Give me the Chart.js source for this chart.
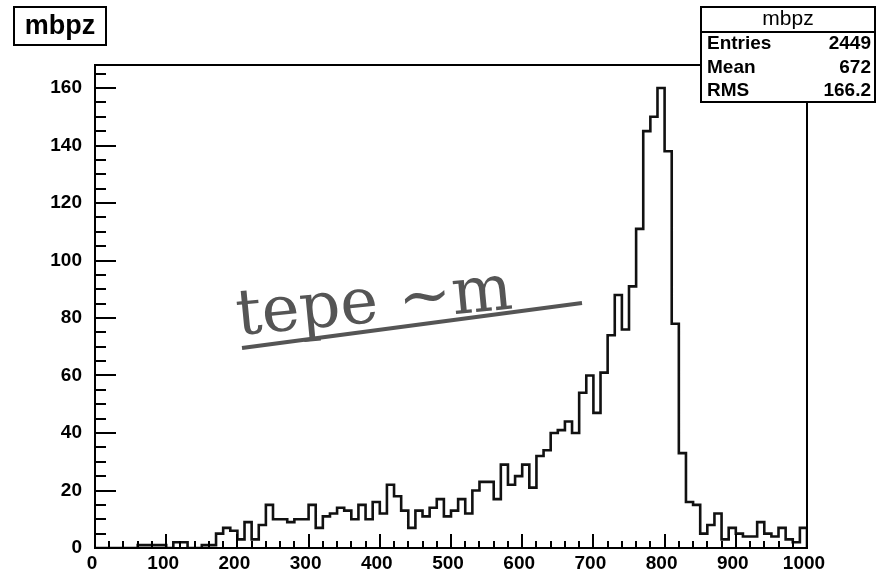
<!DOCTYPE html>
<html>
<head>
<meta charset="utf-8">
<script src="https://cdn.jsdelivr.net/npm/chart.js@4.4.1/dist/chart.umd.min.js"></script>
<style>
  html, body { margin: 0; padding: 0; background: #fff; }
  canvas { display: block; }
</style>
</head>
<body>
<canvas id="c" width="879" height="573"></canvas>
<script>
// Histogram "mbpz": 100 bins of width 10 on [0, 1000]
const histName = 'mbpz';
const xLow = 0;
const xHigh = 1000;
const binWidth = 10;
const counts = [
  0, 0, 0, 0, 0, 0, 1, 1, 1, 1,
  0, 2, 2, 0, 0, 1, 1, 5, 7, 6,
  3, 9, 3, 8, 15, 10, 10, 9, 10, 10,
  15, 7, 11, 12, 14, 13, 10, 15, 10, 16,
  12, 22, 18, 13, 7, 13, 11, 14, 17, 11,
  13, 17, 12, 20, 23, 23, 17, 29, 22, 25,
  29, 21, 32, 34, 40, 41, 44, 40, 54, 60,
  47, 61, 74, 88, 76, 91, 111, 145, 150, 160,
  138, 78, 33, 16, 15, 5, 8, 12, 3, 7,
  5, 4, 4, 9, 5, 4, 7, 3, 2, 7
];
const xTickValues = [0, 100, 200, 300, 400, 500, 600, 700, 800, 900, 1000];
const yTickValues = [0, 20, 40, 60, 80, 100, 120, 140, 160];
const yMax = 168;
const statLabels = ['Entries', 'Mean', 'RMS'];
const statValues = ['2449', '672', '166.2'];
const noteText = 'tepe ~m';

// outline points: start on the baseline, one point per bin low edge, close at the upper edge
const outline = [{ x: xLow, y: 0 }]
  .concat(counts.map((c, i) => ({ x: xLow + i * binWidth, y: c })))
  .concat([{ x: xHigh, y: 0 }]);

Chart.defaults.font.family = "'Liberation Sans', Arial, Helvetica, sans-serif";
Chart.defaults.color = '#000';

// frame, inward tick marks, title box, statistics box and the hand-written note
const decorations = {
  id: 'decorations',
  afterDraw(chart) {
    const ctx = chart.ctx;
    const a = chart.chartArea;
    const xs = chart.scales.x;
    const ys = chart.scales.y;
    ctx.save();
    ctx.strokeStyle = '#000';
    ctx.lineWidth = 2;
    ctx.lineCap = 'butt';

    // axis ticks
    ctx.beginPath();
    for (let v = xLow; v <= xHigh; v += 20) {
      const px = Math.round(xs.getPixelForValue(v));
      const len = v % 100 === 0 ? 14 : 7;
      ctx.moveTo(px, a.bottom);
      ctx.lineTo(px, a.bottom - len);
    }
    for (let v = 0; v <= yMax; v += 5) {
      const py = Math.round(ys.getPixelForValue(v));
      const len = v % 20 === 0 ? 21 : 11;
      ctx.moveTo(a.left, py);
      ctx.lineTo(a.left + len, py);
    }
    ctx.stroke();

    // frame
    ctx.strokeRect(a.left, a.top, a.right - a.left, a.bottom - a.top);

    // title box
    ctx.fillStyle = '#fff';
    ctx.fillRect(14, 7, 92, 38);
    ctx.strokeRect(14, 7, 92, 38);
    ctx.fillStyle = '#000';
    ctx.font = "bold 27px 'Liberation Sans', Arial, sans-serif";
    ctx.textAlign = 'center';
    ctx.textBaseline = 'middle';
    ctx.fillText(histName, 60, 27);

    // statistics box
    const bx = 701, by = 7, bw = 174, bh = 95;
    ctx.fillStyle = '#fff';
    ctx.fillRect(bx, by, bw, bh);
    ctx.strokeRect(bx, by, bw, bh);
    ctx.beginPath();
    ctx.moveTo(bx, 32);
    ctx.lineTo(bx + bw, 32);
    ctx.stroke();
    ctx.fillStyle = '#000';
    ctx.font = "21px 'Liberation Sans', Arial, sans-serif";
    ctx.textAlign = 'center';
    ctx.fillText(histName, bx + bw / 2, 19);
    ctx.font = "bold 19px 'Liberation Sans', Arial, sans-serif";
    const rowY = [44, 68, 91];
    statLabels.forEach((lab, i) => {
      ctx.textAlign = 'left';
      ctx.fillText(lab, bx + 6, rowY[i]);
      ctx.textAlign = 'right';
      ctx.fillText(statValues[i], bx + bw - 4, rowY[i]);
    });

    // note with underline
    ctx.strokeStyle = '#555';
    ctx.fillStyle = '#555';
    ctx.lineWidth = 4;
    ctx.beginPath();
    ctx.moveTo(242, 348);
    ctx.lineTo(582, 303);
    ctx.stroke();
    ctx.translate(238, 335);
    ctx.rotate(-5.5 * Math.PI / 180);
    ctx.font = "64px 'DejaVu Serif', serif";
    ctx.textAlign = 'left';
    ctx.textBaseline = 'alphabetic';
    ctx.fillText(noteText, 0, 0);
    ctx.restore();
  }
};

new Chart(document.getElementById('c'), {
  type: 'line',
  data: {
    datasets: [{
      data: outline,
      stepped: 'before',
      borderColor: '#111',
      borderWidth: 2.6,
      pointRadius: 0,
      fill: false,
      tension: 0
    }]
  },
  options: {
    responsive: false,
    devicePixelRatio: 1,
    animation: false,
    events: [],
    layout: { padding: { left: 0, right: 72, top: 65, bottom: 0 } },
    plugins: { legend: { display: false }, tooltip: { enabled: false }, title: { display: false } },
    scales: {
      x: {
        type: 'linear',
        min: xLow,
        max: xHigh,
        grid: { display: false, drawTicks: false },
        border: { display: false },
        afterBuildTicks(s) { s.ticks = xTickValues.map(v => ({ value: v })); },
        afterFit(s) { s.height = 25; },
        ticks: {
          autoSkip: false,
          maxRotation: 0,
          padding: 4,
          labelOffset: -3,
          callback: v => String(v),
          font: { size: 19, weight: 'bold' },
          color: '#000'
        }
      },
      y: {
        type: 'linear',
        min: 0,
        max: yMax,
        grid: { display: false, drawTicks: false },
        border: { display: false },
        afterBuildTicks(s) { s.ticks = yTickValues.map(v => ({ value: v })); },
        afterFit(s) { s.width = 95; },
        ticks: {
          autoSkip: false,
          padding: 13,
          callback: v => String(v),
          font: { size: 19, weight: 'bold' },
          color: '#000'
        }
      }
    }
  },
  plugins: [decorations]
});
</script>
</body>
</html>
